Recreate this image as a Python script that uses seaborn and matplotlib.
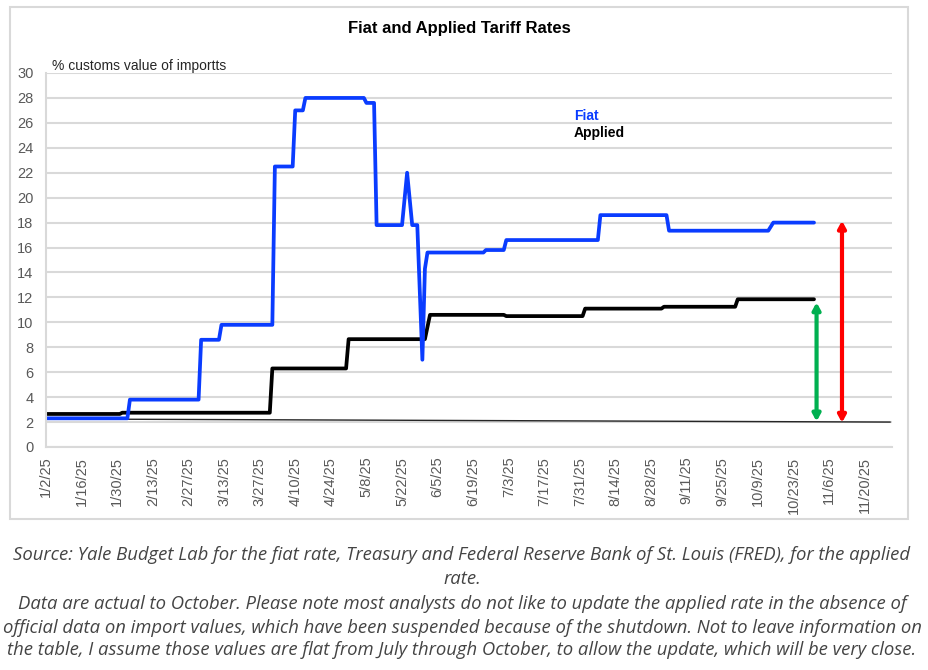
import matplotlib
matplotlib.use("Agg")
import matplotlib.pyplot as plt
import matplotlib.dates as mdates
from matplotlib.patches import Rectangle
import pandas as pd
import seaborn as sns

# ---------------- data ----------------
fiat_dates = ["2025-01-02", "2025-02-03", "2025-02-04", "2025-03-03", "2025-03-04",
              "2025-03-11", "2025-03-12", "2025-04-01", "2025-04-02", "2025-04-09",
              "2025-04-10", "2025-04-13", "2025-04-14", "2025-05-07", "2025-05-08",
              "2025-05-11", "2025-05-12", "2025-05-22", "2025-05-24", "2025-05-26",
              "2025-05-28", "2025-05-30", "2025-05-31", "2025-06-01", "2025-06-23",
              "2025-06-24", "2025-07-01", "2025-07-02", "2025-08-07", "2025-08-08",
              "2025-09-03", "2025-09-04", "2025-10-13", "2025-10-15", "2025-10-31"]
fiat_values = [2.3, 2.3, 3.8, 3.8, 8.6,
               8.6, 9.8, 9.8, 22.5, 22.5,
               27.0, 27.0, 28.0, 28.0, 27.6,
               27.6, 17.8, 17.8, 22.0, 17.8,
               17.8, 7.0, 14.3, 15.6, 15.6,
               15.8, 15.8, 16.6, 16.6, 18.6,
               18.6, 17.35, 17.35, 18.0, 18.0]

applied_dates = ["2025-01-02", "2025-01-31", "2025-02-01", "2025-03-31", "2025-04-01",
                 "2025-04-30", "2025-05-01", "2025-05-31", "2025-06-02", "2025-07-01",
                 "2025-07-02", "2025-08-01", "2025-08-02", "2025-09-01", "2025-09-02",
                 "2025-09-30", "2025-10-01", "2025-10-31"]
applied_values = [2.65, 2.65, 2.75, 2.75, 6.3,
                  6.3, 8.65, 8.65, 10.6, 10.6,
                  10.5, 10.5, 11.1, 11.1, 11.25,
                  11.25, 11.85, 11.85]

base_dates = ["2025-01-02", "2025-11-30"]
base_values = [2.25, 2.0]

arrow_dates = ["2025-11-01", "2025-11-11"]
arrow_low = [2.05, 1.95]
arrow_high = [11.6, 18.15]
arrow_colors = ["#00b050", "#ff0000"]

tick_labels = ["1/2/25", "1/16/25", "1/30/25", "2/13/25", "2/27/25", "3/13/25",
               "3/27/25", "4/10/25", "4/24/25", "5/8/25", "5/22/25", "6/5/25",
               "6/19/25", "7/3/25", "7/17/25", "7/31/25", "8/14/25", "8/28/25",
               "9/11/25", "9/25/25", "10/9/25", "10/23/25", "11/6/25", "11/20/25"]
y_ticks = list(range(0, 31, 2))

title = "Fiat and Applied Tariff Rates"
ylabel = "% customs value of importts"
caption = ["Source: Yale Budget Lab for the fiat rate, Treasury and Federal Reserve Bank of St. Louis (FRED), for the applied",
           "rate.",
           "Data are actual to October. Please note most analysts do not like to update the applied rate in the absence of",
           "official data on import values, which have been suspended because of the shutdown. Not to leave information on",
           "the table, I assume those values are flat from July through October, to allow the update, which will be very close."]

# ---------------- style ----------------
sns.set_style("white")
plt.rcParams["font.family"] = ["Liberation Sans", "DejaVu Sans"]

fiat = pd.DataFrame({"date": pd.to_datetime(fiat_dates), "value": fiat_values})
applied = pd.DataFrame({"date": pd.to_datetime(applied_dates), "value": applied_values})
base = pd.DataFrame({"date": pd.to_datetime(base_dates), "value": base_values})

fig = plt.figure(figsize=(9.29, 6.70), dpi=100)
fig.patch.set_facecolor("white")
ax = fig.add_axes([46 / 929, 1 - 447 / 670, 846 / 929, 374 / 670])

sns.lineplot(data=base, x="date", y="value", ax=ax, color="#262626", linewidth=1.0,
             estimator=None, sort=False)
sns.lineplot(data=applied, x="date", y="value", ax=ax, color="#000000", linewidth=2.7,
             estimator=None, sort=False)
sns.lineplot(data=fiat, x="date", y="value", ax=ax, color="#0a3cff", linewidth=2.7,
             estimator=None, sort=False)

for d, lo, hi, c in zip(arrow_dates, arrow_low, arrow_high, arrow_colors):
    xd = mdates.date2num(pd.Timestamp(d))
    ax.annotate("", xy=(xd, hi), xytext=(xd, lo),
                arrowprops=dict(arrowstyle="<|-|>,head_length=0.4,head_width=0.22",
                                color=c, lw=3.0, shrinkA=0, shrinkB=0))

ax.set_xlim(pd.Timestamp("2025-01-02"), pd.Timestamp("2025-11-30 16:00"))
ax.set_ylim(0, 30)
ax.set_yticks(y_ticks)
ax.set_yticklabels([str(v) for v in y_ticks])
tick_pos = pd.to_datetime(tick_labels, format="%m/%d/%y")
ax.set_xticks(tick_pos)
ax.set_xticklabels(tick_labels, rotation=90)

ax.grid(axis="y", color="#d9d9d9", linewidth=1.5)
ax.grid(axis="x", visible=False)
ax.set_axisbelow(True)
for s in ["top", "right"]:
    ax.spines[s].set_visible(False)
for s in ["left", "bottom"]:
    ax.spines[s].set_color("#d9d9d9")
    ax.spines[s].set_linewidth(1.5)
ax.tick_params(axis="y", length=0, pad=9, labelsize=10.5, labelcolor="#595959")
ax.tick_params(axis="x", length=3, width=1, color="#bfbfbf", pad=4,
               labelsize=10.5, labelcolor="#595959", direction="out")
ax.set_xlabel("")
ax.set_ylabel("")

# chart border
fig.patches.append(Rectangle((10 / 929, 1 - 519 / 670), 898 / 929, 512 / 670,
                             transform=fig.transFigure, fill=False,
                             edgecolor="#d9d9d9", linewidth=1.5))

fig.text(459 / 929, 1 - 28 / 670, title, ha="center", va="center",
         fontsize=12, fontweight="bold", color="#000000")
fig.text(52 / 929, 1 - 66 / 670, ylabel, ha="left", va="center",
         fontsize=10, color="#262626")
fig.text(574 / 929, 1 - 116 / 670, "Fiat", ha="left", va="center",
         fontsize=10, fontweight="bold", color="#0a3cff")
fig.text(574 / 929, 1 - 133 / 670, "Applied", ha="left", va="center",
         fontsize=10, fontweight="bold", color="#000000")

cap_y = [555, 579, 604, 628, 650]
for line, yy in zip(caption, cap_y):
    fig.text(462 / 929, 1 - yy / 670, line, ha="center", va="center",
             fontsize=13.3, style="italic", color="#444444",
             family=["Open Sans", "DejaVu Sans"])

fig.savefig("out.png", dpi=100, facecolor="white")
